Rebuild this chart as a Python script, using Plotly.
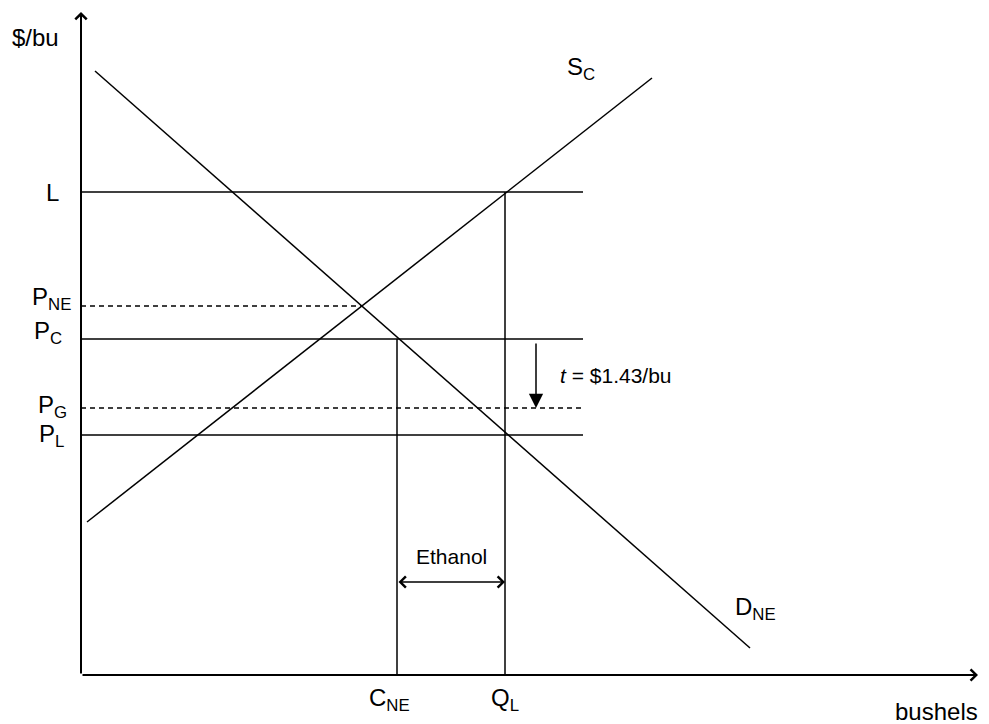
import plotly.graph_objects as go

# diagram values (quantity units along x, $/bu along y)
demand_q = [1.4, 66.9]
demand_p = [60.4, 2.7]
supply_q = [0.6, 57.1]
supply_p = [15.3, 59.7]

price_L = 48.3
price_NE = 36.9
price_C = 33.6
price_G = 26.7
price_Lo = 24.0

q_CNE = 31.6
q_QL = 42.4
q_equil = 28.1
q_line_end = 50.2

ethanol_p = 9.3
tax_q = 45.5
tax_top = 33.3

x_max = 89.7
y_max = 66.3

FONT = "Liberation Sans"
BLACK = "black"

fig = go.Figure()

def seg(xs, ys, dash="solid", width=1.5):
    fig.add_trace(go.Scatter(x=xs, y=ys, mode="lines",
                             line=dict(color=BLACK, width=width, dash=dash),
                             hoverinfo="skip", showlegend=False))

# demand and supply
seg(demand_q, demand_p)
seg(supply_q, supply_p)

# horizontal price lines
seg([0, q_line_end], [price_L, price_L])
seg([0, q_equil], [price_NE, price_NE], dash="5px,4px")
seg([0, q_line_end], [price_C, price_C])
seg([0, q_line_end], [price_G, price_G], dash="5px,4px")
seg([0, q_line_end], [price_Lo, price_Lo])

# vertical quantity lines
seg([q_CNE, q_CNE], [0, price_C])
seg([q_QL, q_QL], [0, price_L])

def arrow(x, y, ax, ay, head, size, width, side="end"):
    fig.add_annotation(x=x, y=y, ax=ax, ay=ay, xref="x", yref="y",
                       axref="x", ayref="y", text="", showarrow=True,
                       arrowhead=head, arrowsize=size, arrowwidth=width,
                       arrowcolor=BLACK, arrowside=side, standoff=0,
                       startstandoff=0)

# axes with open arrow heads
arrow(x_max, 0, 0, 0, 4, 1.1, 2)
arrow(0, y_max, 0, 0, 4, 1.1, 2)

# ethanol double arrow and tax arrow
arrow(q_QL, ethanol_p, q_CNE, ethanol_p, 4, 1.45, 1.5, side="end+start")
arrow(tax_q, price_G, tax_q, tax_top, 2, 1.9, 1.5)

def label(text, x, y, xanchor="center", yanchor="middle", xshift=0, yshift=0, size=24):
    fig.add_annotation(x=x, y=y, xref="x", yref="y", text=text,
                       showarrow=False, xanchor=xanchor, yanchor=yanchor,
                       xshift=xshift, yshift=yshift,
                       font=dict(family=FONT, size=size, color=BLACK))

label("$/bu", 0, y_max, xanchor="right", xshift=-20, yshift=-25)
label("L", 0, price_L, xanchor="right", xshift=-20, yshift=0)
label("P<sub>NE</sub>", 0, price_NE, xanchor="right", xshift=-8, yshift=8)
label("P<sub>C</sub>", 0, price_C, xanchor="right", xshift=-17, yshift=7)
label("P<sub>G</sub>", 0, price_G, xanchor="right", xshift=-12, yshift=2)
label("P<sub>L</sub>", 0, price_Lo, xanchor="right", xshift=-15, yshift=0)
label("C<sub>NE</sub>", q_CNE, 0, yanchor="top", xshift=-8, yshift=-7)
label("Q<sub>L</sub>", q_QL, 0, yanchor="top", xshift=0, yshift=-7)
label("bushels", x_max, 0, xanchor="right", yanchor="top", xshift=2, yshift=-21)
label("S<sub>C</sub>", supply_q[1], supply_p[1], xanchor="right", xshift=-55, yshift=10)
label("D<sub>NE</sub>", demand_q[1], demand_p[1], xanchor="left", xshift=-17, yshift=40)
label("Ethanol", (q_CNE + q_QL) / 2, ethanol_p, yshift=26, size=21)
label("<i>t</i> = $1.43/bu", tax_q, (tax_top + price_G) / 2, xanchor="left",
      xshift=22, size=21)

# the page body adds an 8px offset, so the figure is sized to fit inside it
fig.update_layout(
    width=981, height=716,
    margin=dict(l=73, r=11, t=4, b=49),
    paper_bgcolor="white", plot_bgcolor="white",
    xaxis=dict(range=[0, x_max], visible=False, fixedrange=True),
    yaxis=dict(range=[0, y_max], visible=False, fixedrange=True),
    showlegend=False,
)

fig.write_html("out.html")
